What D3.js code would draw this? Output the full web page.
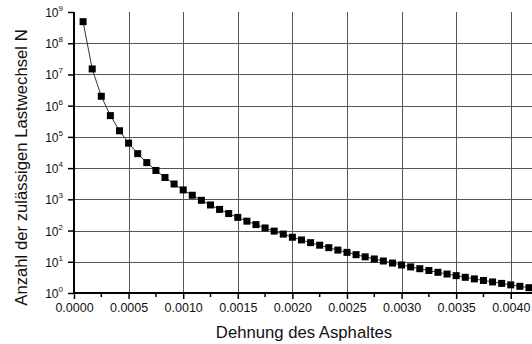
<!DOCTYPE html>
<html>
<head>
<meta charset="utf-8">
<script src="https://cdn.jsdelivr.net/npm/d3@7/dist/d3.min.js"></script>
<style>
  html, body { margin: 0; padding: 0; background: #fff; }
  svg { display: block; font-family: "Liberation Sans", Arial, sans-serif; }
</style>
</head>
<body>
<svg id="chart" width="532" height="344"></svg>
<script>
// Strain values (Dehnung des Asphaltes)
const strain = [
  0.0000833, 0.0001667, 0.00025, 0.0003333, 0.0004167, 0.0005, 0.0005833, 0.0006667, 0.00075, 0.0008333,
  0.0009167, 0.001, 0.0010833, 0.0011667, 0.00125, 0.0013333, 0.0014167, 0.0015, 0.0015833, 0.0016667,
  0.00175, 0.0018333, 0.0019167, 0.002, 0.0020833, 0.0021667, 0.00225, 0.0023333, 0.0024167, 0.0025,
  0.0025833, 0.0026667, 0.00275, 0.0028333, 0.0029167, 0.003, 0.0030833, 0.0031667, 0.00325, 0.0033333,
  0.0034167, 0.0035, 0.0035833, 0.0036667, 0.00375, 0.0038333, 0.0039167, 0.004, 0.0040833, 0.0041667
];
// Allowed load cycles N
const cycles = [
  4.9e8, 1.5e7, 2.0e6, 4.8e5, 1.57e5, 6.3e4, 2.9e4, 1.5e4, 8.4e3, 5.0e3,
  3.1e3, 2.0e3, 1.35e3, 930, 660, 475, 350, 264, 200, 155,
  121, 96, 77, 61, 50, 41, 34, 28.3, 23.7, 20,
  16.9, 14.4, 12.3, 10.6, 9.1, 7.9, 6.85, 6.0, 5.25, 4.6,
  4.05, 3.6, 3.18, 2.83, 2.52, 2.26, 2.03, 1.82, 1.64, 1.48
];
const xTicks = [0, 0.0005, 0.001, 0.0015, 0.002, 0.0025, 0.003, 0.0035, 0.004];
const xMinorTicks = [0.00025, 0.00075, 0.00125, 0.00175, 0.00225, 0.00275, 0.00325, 0.00375];
const yExponents = [0, 1, 2, 3, 4, 5, 6, 7, 8, 9];
const xTitle = "Dehnung des Asphaltes";
const yTitle = "Anzahl der zulässigen Lastwechsel N";

const svg = d3.select("#chart");
const x = d3.scaleLinear().domain([0, 0.0042]).range([74, 532.6]);
const y = d3.scaleLog().domain([1, 1e9]).range([293, 12]);

// grid
const grid = svg.append("g").attr("stroke", "#555").attr("stroke-width", 1);
grid.selectAll("line.v").data(xTicks.slice(1)).join("line")
  .attr("x1", d => Math.round(x(d)) + 0.5).attr("x2", d => Math.round(x(d)) + 0.5)
  .attr("y1", y(1e9)).attr("y2", y(1));
grid.selectAll("line.h").data(yExponents.slice(1, 9)).join("line")
  .attr("y1", d => Math.round(y(Math.pow(10, d))) + 0.5).attr("y2", d => Math.round(y(Math.pow(10, d))) + 0.5)
  .attr("x1", x(0)).attr("x2", 532);

// line
svg.append("path")
  .datum(strain.map((s, i) => [s, cycles[i]]))
  .attr("fill", "none").attr("stroke", "#333").attr("stroke-width", 1)
  .attr("d", d3.line().x(d => x(d[0])).y(d => y(d[1])));

// markers
const ms = 7;
svg.append("g").selectAll("rect").data(strain.map((s, i) => [s, cycles[i]])).join("rect")
  .attr("x", d => x(d[0]) - ms / 2).attr("y", d => y(d[1]) - ms / 2)
  .attr("width", ms).attr("height", ms).attr("fill", "#000");

// axes
const xAxis = d3.axisBottom(x).tickValues(xTicks).tickSize(6).tickFormat(d3.format(".4f"));
const gx = svg.append("g").attr("transform", `translate(0,${y(1)})`).call(xAxis);
gx.select(".domain").remove();
gx.selectAll(".tick line").attr("stroke", "#000").attr("stroke-width", 1.5);
gx.selectAll(".tick text").attr("font-size", 12.5).attr("fill", "#111").attr("font-family", "Liberation Sans, Arial, sans-serif").attr("dy", "0.71em").attr("y", 10);
const gxm = svg.append("g").attr("transform", `translate(0,${y(1)})`);
gxm.selectAll("line").data(xMinorTicks).join("line")
  .attr("x1", d => x(d)).attr("x2", d => x(d)).attr("y1", 0).attr("y2", 4)
  .attr("stroke", "#000").attr("stroke-width", 1.5);
svg.append("line").attr("x1", x(0) - 1).attr("x2", 532).attr("y1", y(1)).attr("y2", y(1))
  .attr("stroke", "#000").attr("stroke-width", 2);

const yAxis = d3.axisLeft(y).tickValues(yExponents.map(e => Math.pow(10, e))).tickSize(6).tickFormat("");
const gy = svg.append("g").attr("transform", `translate(${x(0)},0)`).call(yAxis);
gy.select(".domain").remove();
gy.selectAll(".tick line").attr("stroke", "#000").attr("stroke-width", 1.5);
svg.append("line").attr("x1", x(0)).attr("x2", x(0)).attr("y1", y(1e9)).attr("y2", y(1) + 1)
  .attr("stroke", "#000").attr("stroke-width", 2);

const yl = svg.append("g").selectAll("text").data(yExponents).join("text")
  .attr("x", 63).attr("y", d => y(Math.pow(10, d)) + 5)
  .attr("text-anchor", "end").attr("font-size", 12).attr("fill", "#111");
yl.append("tspan").text("10");
yl.append("tspan").attr("dy", -6).attr("font-size", 8).text(d => d);

// titles
svg.append("text").attr("x", 304).attr("y", 338).attr("text-anchor", "middle")
  .attr("font-size", 16.7).attr("fill", "#111").text(xTitle);
svg.append("text").attr("transform", "rotate(-90)").attr("x", -167.5).attr("y", 27)
  .attr("text-anchor", "middle").attr("font-size", 16.7).attr("fill", "#111").text(yTitle);
</script>
</body>
</html>
